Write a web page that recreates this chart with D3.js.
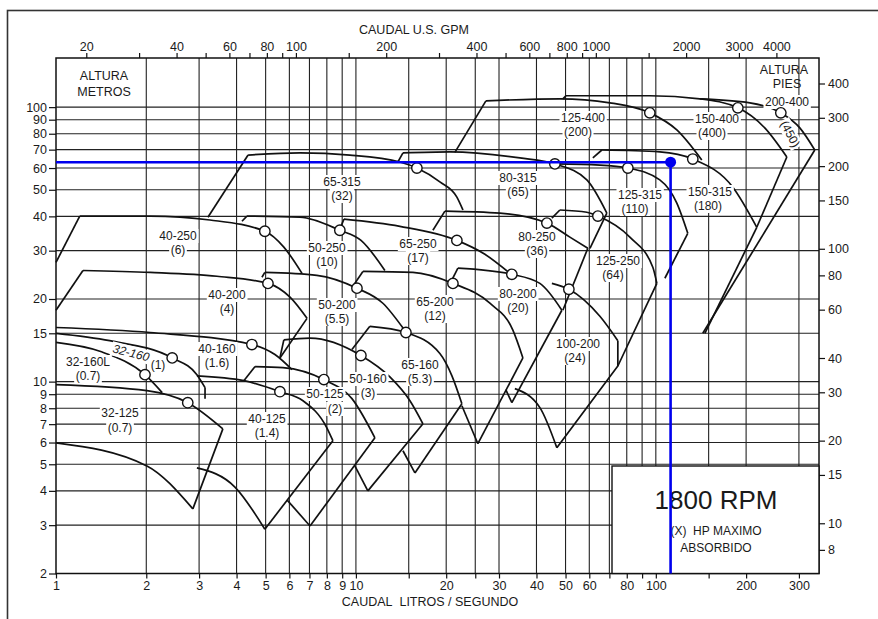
<!DOCTYPE html>
<html><head><meta charset="utf-8">
<script src="https://cdn.jsdelivr.net/npm/d3@7"></script>
<style>
body{margin:0;background:#fff}
text{font-family:"Liberation Sans",Arial,sans-serif;fill:#1a1a1a}
</style>
</head><body>
<svg id="c" width="878" height="619"></svg>
<script>
// ---------------- DATA ----------------
const LS_TO_GPM = 15.8503;
const M_TO_FT = 3.28084;
const flowLsTicks = [1,2,3,4,5,6,7,8,9,10,20,30,40,50,60,80,100,200,300];
const flowLsMinor = [15,25,70,90,150];
const flowGridLs = [2,3,4,5,6,7,8,9,10,15,20,25,30,40,50,60,70,80,90,100,150,200,300];
const headTicksM = [2,3,4,5,6,7,8,9,10,15,20,30,40,50,60,70,80,90,100];
const headGridM = [3,4,5,6,7,8,9,10,15,20,30,40,50,60,70,80,90,100];
const gpmTicks = [20,40,60,80,100,200,400,600,800,1000,2000,3000,4000];
const gpmMinor = [30,50,70,90,150,300,500,700,900,1500];
const feetTicks = [400,300,200,150,100,80,60,40,30,20,15,10,8];
const dutyPoint = [112, 63];

const pumpNames = ["32-125","32-160L","32-160","40-160","40-125","50-125","50-160","65-160",
  "40-200","50-200","65-200","80-200","100-200",
  "40-250","50-250","65-250","80-250","125-250",
  "65-315","80-315","125-315","150-315",
  "125-400","150-400","200-400"];
const pumpHP = ["(0.7)","(0.7)","(1)","(1.6)","(1.4)","(2)","(3)","(5.3)",
  "(4)","(5.5)","(12)","(20)","(24)",
  "(6)","(10)","(17)","(36)","(64)",
  "(32)","(65)","(110)","(180)",
  "(200)","(400)","(450)"];
// start of the left (minimum-flow) slant, [L/s, m]
const slantStarts = [null,null,null,null,null,[4.23,10.08],[5.58,12.2],[9.7,13.1],
  [1,18.2],[4.86,24.0],[9.7,22.0],[20.7,23.0],null,
  [1,27.2],[4.17,38.4],[8.84,35.9],[18.06,35.6],[45.02,39.4],
  [3.21,39.7],[13.8,63.1],null,[61.66,65.3],
  [21.38,68.4],[48.98,107.2],null];
// maximum-impeller head curves, [L/s, m]
const topCurves = [
  [[1,9.75],[2.01,9.27],[2.75,8.38],[3.6,6.73]],
  [[1,13.9],[1.4,12.9],[1.98,10.6],[2.26,9.12]],
  [[1,15.0],[1.51,14.1],[2.44,12.2],[2.95,10.6],[3.14,9.51]],
  [[1,15.75],[2.06,15.1],[4.5,13.65],[5.37,12.55],[6.12,11.06]],
  [[2.95,10.5],[4.23,10.08],[5.58,9.19],[6.66,8.52],[8.0,6.79],[8.38,6.09]],
  [[4.61,11.35],[5.71,11.25],[7.82,10.17],[9.7,8.67],[11.57,6.24]],
  [[5.75,14.2],[7.03,14.4],[10.39,12.45],[12.98,10.4],[15.14,8.52],[16.73,7.02]],
  [[11.13,15.9],[14.68,15.1],[19.05,12.66],[20.9,10.5],[22.56,8.31]],
  [[1.23,25.4],[2.06,25.0],[3.44,24.2],[5.09,22.8],[6.03,20.3],[6.87,17.0]],
  [[4.97,25.0],[7.41,24.4],[10.08,21.9],[12.3,19.3],[14.4,15.6]],
  [[10.55,25.2],[15.49,25.0],[21.06,22.8],[27.97,19.3],[33.37,15.4],[36.04,12.2]],
  [[21.88,25.9],[33.11,24.6],[41.06,22.8],[48.61,18.2]],
  [[45.02,22.8],[51.29,21.7],[65.09,17.3],[74.7,14.1]],
  [[1.2,40.1],[2.06,40.1],[3.26,38.8],[4.97,35.3],[5.75,30.9],[6.61,24.8]],
  [[4.33,40.1],[6.51,39.7],[8.84,35.6],[10.4,32.7],[12.49,25.4]],
  [[9.12,39.1],[14.02,36.8],[21.71,32.7],[26.92,29.1],[32.62,24.8]],
  [[19.8,41.8],[30.2,41.1],[43.33,37.8],[51.69,33.6],[59.33,30.6]],
  [[47.86,42.2],[58.88,41.4],[64.09,40.1],[81.92,33.6],[97.72,26.1],[100.8,22.8]],
  [[4.37,66.9],[6.51,68.1],[9.55,66.9],[14.02,63.1],[15.97,60.0],[19.05,53.4],[21.71,47.0],[22.74,42.2]],
  [[14.35,68.1],[20.57,68.7],[35.22,65.3],[46.07,62.1],[58.88,54.3],[68.65,41.1]],
  [[46.07,62.1],[65.09,61.5],[80.67,60.0],[103.1,54.3],[117.5,44.7],[127.8,34.7]],
  [[66.07,69.8],[103.1,68.7],[132.8,64.7],[180.6,51.1],[217.1,36.5]],
  [[27.13,105.4],[47.86,107.2],[70.25,103.7],[95.5,95.3],[117.5,82.6],[142.3,64.2]],
  [[50.12,110.0],[95.5,110.0],[140.2,107.2],[187.7,99.4],[230.8,84.0],[273.4,65.8]],
  [[140.2,107.2],[205.8,103.7],[261.1,95.3],[302,84.0],[338.8,69.8]]
];
// right (maximum-flow) edge, from the end of the top curve
const rightEdges = [
  [[2.86,3.44]],[],[[3.14,8.67]],[],[[4.97,2.9]],[[7.03,2.98]],[[10.96,4.0]],[[15.73,4.65]],
  [[5.58,12.2]],[],[[25.51,5.94]],[[33.11,8.38]],[[74.7,11.4],[46.77,5.74]],
  [],[],[],[[48.98,18.2]],[[74.7,11.4]],
  [],[[60.3,30.6]],[[107.2,23.8]],[[145.7,15.0]],
  [],[[217.1,36.5]],[[143.4,15.0]]
];
// minimum-impeller curves, ending at the bottom corner
const bottomCurves = [
  [[1,5.98],[2.01,4.93],[2.86,3.44]],[],[],[],[[2.95,4.85],[3.95,4.13],[4.97,2.9]],
  [[5.89,3.71],[7.03,2.98]],[[9.92,4.93],[10.96,4.0]],[[14.35,5.6],[15.73,4.65]],
  [],[],[[22.56,8.17],[25.51,5.94]],[[31.6,9.35],[33.11,8.38]],[[33.88,9.43],[41.06,8.04],[46.77,5.74]],
  [],[],[],[],[],
  [],[],[],[],
  [],[],[]
];
// best-efficiency points
const bepPoints = [[2.75,8.38],[1.98,10.6],[2.44,12.2],[4.5,13.65],[5.58,9.19],[7.82,10.17],[10.39,12.45],[14.68,15.1],
  [5.09,22.8],[10.08,21.9],[21.06,22.8],[33.11,24.6],[51.29,21.7],
  [4.97,35.3],[8.84,35.6],[21.71,32.7],[43.33,37.8],[64.09,40.1],
  [15.97,60.0],[46.07,62.1],[80.67,60.0],[132.8,64.7],
  [95.5,95.3],[187.7,99.4],[261.1,95.3]];

// ---------------- LAYOUT (pixels) ----------------
const labelLayout = [
  [120,413,120,428],[88,362,88,376],[131,353,158,365],[217,349,217,363],[267,419,267,433],
  [325,394,335,409],[368,379,368,393],[420,365,420,379],
  [227,295,227,309],[337,305,337,319],[435,302,435,316],[518,294,518,308],[578,344,575,358],
  [178,236,178,250],[327,248,327,262],[418,244,418,258],[537,237,537,251],[618,261,613,275],
  [342,182,342,196],[518,178,518,192],[640,195,635,209],[710,192,708,206],
  [583,118,578,132],[717,119,712,133],[787,102,790,134]
];

const svg = d3.select('#c');
const PL=56, PR=819, PT=58, PB=573.5;
const x = d3.scaleLog().domain([1,350]).range([PL,PR]);
const y = d3.scaleLog().domain([2,151]).range([PB,PT]);
const xg = d3.scaleLog().domain([1*LS_TO_GPM,350*LS_TO_GPM]).range([PL,PR]);
const yf = d3.scaleLog().domain([2*M_TO_FT,151*M_TO_FT]).range([PB,PT]);

// outer frame
svg.append('rect').attr('x',7.5).attr('y',10.5).attr('width',900).attr('height',700)
  .attr('fill','none').attr('stroke','#333').attr('stroke-width',1.6);

// grid
const grid = svg.append('g').attr('stroke','#222').attr('stroke-width',1.1);
grid.selectAll('line.v').data(flowGridLs).join('line')
  .attr('x1',d=>x(d)).attr('x2',d=>x(d)).attr('y1',PT).attr('y2',PB);
grid.selectAll('line.h').data(headGridM).join('line').attr('class','h')
  .attr('x1',PL).attr('x2',PR).attr('y1',d=>y(d)).attr('y2',d=>y(d));

// plot frame
svg.append('rect').attr('x',PL).attr('y',PT).attr('width',PR-PL).attr('height',PB-PT)
  .attr('fill','none').attr('stroke','#111').attr('stroke-width',1.5);

// pump curves
const straight = d3.line().x(d=>x(d[0])).y(d=>y(d[1]));
const smooth = d3.line().x(d=>x(d[0])).y(d=>y(d[1])).curve(d3.curveMonotoneX);
const cg = svg.append('g').attr('fill','none').attr('stroke','#111').attr('stroke-width',1.7)
  .attr('stroke-linejoin','round');
pumpNames.forEach((n,i)=>{
  const top = topCurves[i];
  if (slantStarts[i]) cg.append('path').attr('d',straight([slantStarts[i], top[0]]));
  cg.append('path').attr('d',smooth(top));
  if (rightEdges[i].length) cg.append('path').attr('d',straight([top[top.length-1], ...rightEdges[i]]));
  if (bottomCurves[i].length) cg.append('path').attr('d',smooth(bottomCurves[i]));
});

// labels with white background
function boxedText(g, tx, ty, str, opts={}) {
  const gg = g.append('g').attr('transform',`translate(${tx},${ty})${opts.rot?` rotate(${opts.rot})`:''}`);
  const r = gg.append('rect').attr('fill','#fff');
  const t = gg.append('text').attr('text-anchor','middle').attr('dominant-baseline','central')
    .attr('font-size',opts.size||12).text(str);
  if (opts.italic) t.attr('font-style','italic');
  const b = t.node().getBBox();
  r.attr('x',b.x-1.5).attr('y',b.y).attr('width',b.width+3).attr('height',b.height);
  return gg;
}
const lg = svg.append('g');
pumpNames.forEach((n,i)=>{
  const L = labelLayout[i];
  if (n==="32-160") boxedText(lg,L[0],L[1],n,{rot:14,italic:true});
  else boxedText(lg,L[0],L[1],n);
  if (n==="200-400") boxedText(lg,L[2],L[3],pumpHP[i],{rot:62});
  else boxedText(lg,L[2],L[3],pumpHP[i]);
});

// BEP circles
svg.append('g').selectAll('circle').data(bepPoints).join('circle')
  .attr('cx',d=>x(d[0])).attr('cy',d=>y(d[1])).attr('r',5.2)
  .attr('fill','#fff').attr('stroke','#111').attr('stroke-width',1.4);

// Axis-corner titles
svg.append('text').attr('x',104).attr('y',76).attr('text-anchor','middle').attr('dominant-baseline','central').attr('font-size',12.5).text('ALTURA');
svg.append('text').attr('x',104).attr('y',92).attr('text-anchor','middle').attr('dominant-baseline','central').attr('font-size',12.5).text('METROS');
svg.append('text').attr('x',784).attr('y',70).attr('text-anchor','middle').attr('dominant-baseline','central').attr('font-size',12.5).text('ALTURA');
svg.append('text').attr('x',787).attr('y',84).attr('text-anchor','middle').attr('dominant-baseline','central').attr('font-size',12.5).text('PIES');

// 1800 RPM box
svg.append('rect').attr('x',612).attr('y',466).attr('width',PR-612).attr('height',PB-466)
  .attr('fill','#fff').attr('stroke','#111').attr('stroke-width',1.4);
svg.append('text').attr('x',716).attr('y',500).attr('text-anchor','middle').attr('dominant-baseline','central').attr('font-size',26).text('1800 RPM');
svg.append('text').attr('x',716).attr('y',531).attr('text-anchor','middle').attr('dominant-baseline','central').attr('font-size',12).text('(X)\u00A0 HP MAXIMO');
svg.append('text').attr('x',716).attr('y',548).attr('text-anchor','middle').attr('dominant-baseline','central').attr('font-size',12).text('ABSORBIDO');

// duty point (blue)
const bl = svg.append('g').attr('stroke','#0000ee').attr('stroke-width',2.6);
bl.append('line').attr('x1',PL).attr('x2',x(dutyPoint[0])).attr('y1',y(dutyPoint[1])).attr('y2',y(dutyPoint[1]));
bl.append('line').attr('x1',x(dutyPoint[0])).attr('x2',x(dutyPoint[0])).attr('y1',y(dutyPoint[1])).attr('y2',PB);
svg.append('circle').attr('cx',x(dutyPoint[0])).attr('cy',y(dutyPoint[1])).attr('r',5.5).attr('fill','#0000ee');

// axes
function styleAxis(g){
  g.select('.domain').remove();
  g.selectAll('line').attr('stroke','#111').attr('stroke-width',1.2);
  g.selectAll('text').attr('font-size',12.5).attr('font-family','"Liberation Sans",Arial,sans-serif').attr('fill','#1a1a1a');
}
const fmt = d=>String(d);
svg.append('g').attr('transform',`translate(0,${PB})`)
  .call(d3.axisBottom(x).tickValues(flowLsTicks).tickFormat(fmt).tickSize(5).tickPadding(3)).call(styleAxis);
svg.append('g').attr('transform',`translate(0,${PB})`)
  .call(d3.axisBottom(x).tickValues(flowLsMinor).tickFormat('').tickSize(5)).call(styleAxis);
svg.append('g').attr('transform',`translate(0,${PT})`)
  .call(d3.axisTop(xg).tickValues(gpmTicks).tickFormat(fmt).tickSize(5).tickPadding(2)).call(styleAxis);
svg.append('g').attr('transform',`translate(0,${PT})`)
  .call(d3.axisTop(xg).tickValues(gpmMinor).tickFormat('').tickSize(5)).call(styleAxis);
svg.append('g').attr('transform',`translate(${PL},0)`)
  .call(d3.axisLeft(y).tickValues(headTicksM).tickFormat(fmt).tickSize(7).tickPadding(2)).call(styleAxis);
svg.append('g').attr('transform',`translate(${PR},0)`)
  .call(d3.axisRight(yf).tickValues(feetTicks).tickFormat(fmt).tickSize(6).tickPadding(3)).call(styleAxis);

svg.append('text').attr('x',414).attr('y',30).attr('text-anchor','middle').attr('dominant-baseline','central').attr('font-size',12.5).text('CAUDAL U.S. GPM');
svg.append('text').attr('x',430).attr('y',602).attr('text-anchor','middle').attr('dominant-baseline','central').attr('font-size',12.5).text('CAUDAL\u00A0 LITROS / SEGUNDO');
</script>
</body></html>
